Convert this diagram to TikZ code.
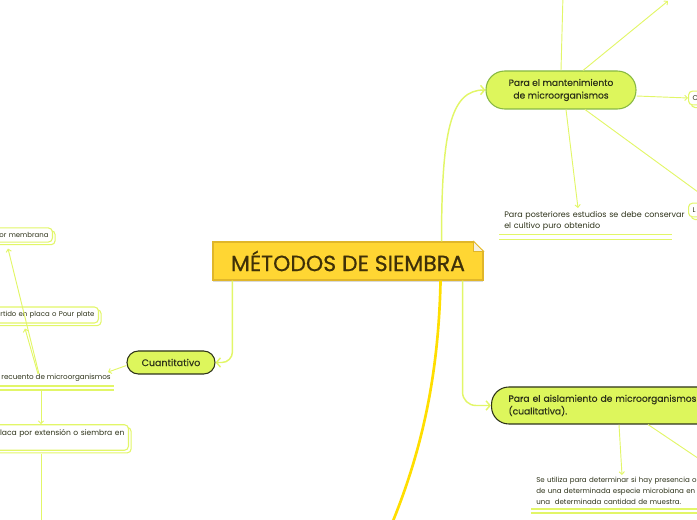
\documentclass[tikz,border=0pt]{standalone}
\usepackage{fontspec}
\setmainfont{Poppins}
\newfontfamily\titlefont[FakeBold=0.6]{Poppins}
\newfontfamily\topicfont[FakeBold=0.35]{Poppins}
\usetikzlibrary{positioning, calc, arrows.meta, shadows}
\definecolor{limefill}{RGB}{221, 246, 92}
\definecolor{limeline}{RGB}{226, 246, 104}
\definecolor{limeborder}{RGB}{135, 184, 66}
\definecolor{goldfill}{RGB}{255, 214, 51}
\definecolor{goldborder}{RGB}{224, 182, 42}
\definecolor{goldline}{RGB}{255, 222, 0}
\definecolor{goldtext}{RGB}{62, 48, 8}
\definecolor{darktext}{RGB}{45, 50, 25}
\definecolor{foldgray}{RGB}{245, 241, 228}

\begin{document}
\begin{tikzpicture}[x=0.75pt, y=-0.75pt,
    central/.style={draw=goldborder, fill=goldfill, line width=0.8pt, minimum width=202.5pt, minimum height=28.5pt, font=\titlefont\fontsize{16.5}{19}\selectfont, text=goldtext, drop shadow={shadow xshift=0pt, shadow yshift=-1.5pt, fill=black, opacity=0.15}},
    topic/.style={fill=limefill, line width=0.8pt, text=darktext, align=center, font=\topicfont\fontsize{6.85}{9.5}\selectfont},
    leaf/.style={draw=limeline, fill=white, line width=0.8pt, rounded corners=3pt, text=darktext, font=\fontsize{5.2}{8}\selectfont, inner xsep=3pt, copy shadow={shadow xshift=2pt, shadow yshift=-2pt, draw=limeline, fill=white, line width=0.8pt}},
    note/.style={inner sep=0pt, align=left, text=darktext, font=\fontsize{5.4}{8.25}\selectfont},
    link/.style={draw=limeline, line width=1.1pt, -{Straight Barb[length=3pt, width=7pt]}},
    thin/.style={draw=limeline, line width=0.7pt, -{Straight Barb[length=2pt, width=4pt]}},
    underline/.style={draw=limeline, line width=1pt}
]
\useasboundingbox (0,0) rectangle (697,520);
\clip (0,0) rectangle (697,520);

% Central topic
\node[central] (title) at (348,261) {MÉTODOS DE SIEMBRA};
\fill[white] ($(title.north east)+(-10,-1)$) -- ($(title.north east)+(1,-1)$) -- ($(title.north east)+(1,10)$) -- cycle;
\filldraw[fill=foldgray, draw=goldborder, line width=0.6pt] ($(title.north east)+(-10,0)$) -- ($(title.north east)+(0,10)$) -- ($(title.north east)+(-10,10)$) -- cycle;

% Main topics
\node[topic, draw=limeborder, rounded corners=14pt, minimum width=112.5pt, minimum height=28.5pt] (mant) at (561,90) {Para el mantenimiento\\de microorganismos};
\node[topic, draw=darktext, rounded corners=13pt, align=left, text width=160pt, inner xsep=12.75pt, minimum height=27.75pt, anchor=west] (aisl) at (491,405.5) {Para el aislamiento de microorganismos\\(cualitativa).};
\node[topic, draw=darktext, rounded corners=8.5pt, minimum width=66pt, minimum height=17.25pt, font=\topicfont\fontsize{7.1}{9.5}\selectfont] (cuant) at (171,362.5) {Cuantitativo};

% Left branch
\node[leaf, anchor=east, text width=70pt, align=right, minimum height=9pt] (memb) at (53,235) {or membrana};
\node[leaf, anchor=east, text width=100pt, align=right, minimum height=9pt] (pour) at (99,315) {rtido en placa o Pour plate};
\node[note, anchor=south east] (rec) at (111,382) {recuento de microorganismos};
\node[leaf, anchor=east, text width=120pt, align=right, minimum height=17.25pt, font=\fontsize{5.7}{8}\selectfont] (laca) at (129,437.5) {laca por extensión o siembra en\hspace*{8pt}\\\phantom{x}};
\coordinate (lacaout) at (41,530);

% Right branches
\node[leaf, anchor=west, text width=30pt, align=left, minimum height=9pt] (cbox) at (688,98) {C};
\node[leaf, anchor=west, text width=30pt, align=left, minimum height=9pt] (lbox) at (688,210) {L};
\node[note, anchor=north west, text width=140pt, font=\fontsize{6.0}{8.25}\selectfont] (post) at (504,211) {Para posteriores estudios se debe conservar\\el cultivo puro obtenido};
\node[note, anchor=north west, text width=200pt, font=\fontsize{5.3}{8.25}\selectfont] (se) at (536,477) {Se utiliza para determinar si hay presencia o\\de una determinada especie microbiana en\\una\ \ determinada cantidad de muestra.};
\coordinate (mantup) at (563,-5);
\coordinate (mantne) at (668,1);
\coordinate (aislout) at (720,473);
\coordinate (goldend) at (385,540);

% Underlines
\draw[underline] ($(rec.south east)+(3,4)$) -- ($(rec.south east)+(-130,4)$);
\draw[underline] ($(rec.south east)+(3,8)$) -- ($(rec.south east)+(-130,8)$);
\draw[underline] ($(post.south west)+(-5,4)$) -- ($(post.south west)+(168,4)$);
\draw[underline] ($(post.south west)+(-5,9)$) -- ($(post.south west)+(168,9)$);
\draw[underline] ($(se.south west)+(-5,4)$) -- ($(se.south west)+(200,4)$);
\draw[underline] ($(se.south west)+(-5,8)$) -- ($(se.south west)+(200,8)$);

% Central connectors
\draw[link, rounded corners=8pt] ($(title.south west)+(20,0)$) |- (cuant.east);
\draw[link] ($(title.north east)+(-42,0)$) .. controls ($(title.north east)+(-42,-110)$) and ($(mant.west)+(-35,0)$) .. (mant.west);
\draw[link, rounded corners=10pt] ($(title.south east)+(-21,0)$) |- (aisl.west);
\draw[goldline, line width=2pt] ($(title.south east)+(-43,0)$) .. controls ($(title.south east)+(-45,100)$) and (420,460) .. (goldend);

% Mantenimiento connectors
\draw[thin, -] (mant.north) -- (mantup);
\draw[thin] ($(mant.north)+(22,0)$) -- (mantne);
\draw[thin] ($(mant.east)+(0,6)$) -- (cbox.west);
\draw[thin] ($(mant.south)+(5,0)$) -- ($(post.north west)+(74,-3)$);
\draw[thin] ($(mant.south)+(24,0)$) -- (lbox.north);

% Aislamiento connectors
\draw[thin] ($(aisl.south west)+(128,0)$) -- ($(se.north west)+(86,-2)$);
\draw[thin, -] ($(aisl.south west)+(157,0)$) -- (aislout);

% Cuantitativo connectors
\draw[thin] ($(cuant.west)+(0,3)$) -- ($(rec.north east)+(-3,-2)$);
\draw[thin] ($(rec.north east)+(-72,0)$) -- ($(memb.south east)+(-45,6)$);
\draw[thin] ($(rec.north east)+(-73,0)$) -- ($(pour.south east)+(-74,5)$);
\draw[thin] ($(rec.south east)+(-70,9)$) -- ($(laca.north east)+(-88,0)$);
\draw[thin, -] ($(laca.south east)+(-88,3)$) -- (lacaout);

\end{tikzpicture}
\end{document}
